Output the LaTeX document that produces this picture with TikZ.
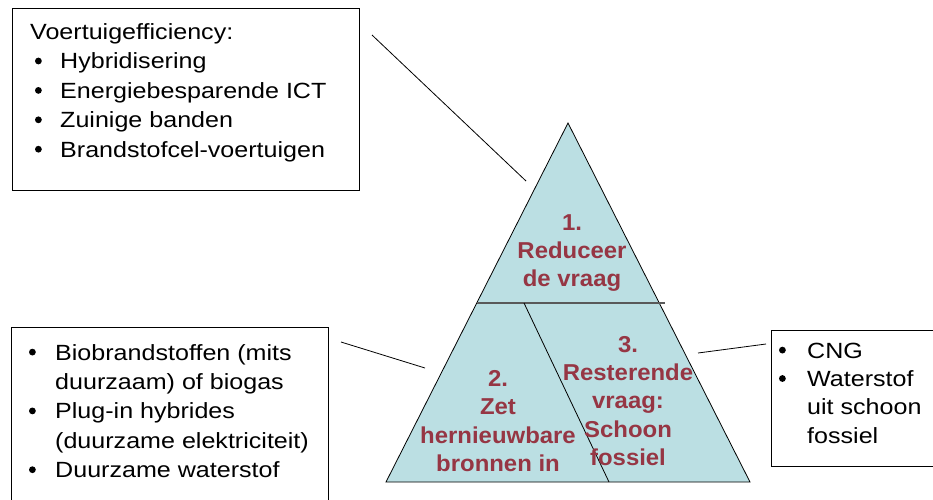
\documentclass[tikz,border=0pt]{standalone}
\usepackage{fontspec}
\setmainfont{Liberation Sans}[FakeStretch=1.14]
\newfontfamily\pyrfont{Liberation Sans}[FakeStretch=1.04]
\definecolor{pyrfill}{RGB}{187,223,227}
\definecolor{pyrred}{RGB}{150,54,68}
\tikzset{
  infobox/.style={draw, line width=1pt, inner sep=0pt, anchor=north west},
  listtext/.style={inner sep=0pt, anchor=base west, font=\fontsize{22}{29.4}\selectfont},
  pyrlabel/.style={inner sep=0pt, anchor=base, text=pyrred, font=\pyrfont\bfseries\fontsize{23}{28.4}\selectfont},
  leader/.style={line width=0.8pt},
}
\begin{document}
\begin{tikzpicture}[x=1pt,y=-1pt]
    \useasboundingbox (0,0) rectangle (933,499);
    % pyramid
    \coordinate (apex) at (568,123);
    \coordinate (baseL) at (386,482);
    \coordinate (baseR) at (750,482);
    \coordinate (divL) at (476.7,303);
    \coordinate (divR) at (665,303);
    \coordinate (cutTop) at (524,303);
    \coordinate (cutBot) at (609,482);
    \fill[pyrfill] (apex) -- (baseR) -- (baseL) -- cycle;
    \draw[line width=0.8pt] (apex) -- (baseR) -- (baseL) -- cycle;
    \draw[line width=2pt, black!65] (divL) -- (divR);
    \draw[line width=0.8pt] (cutTop) -- (cutBot);
    \node[pyrlabel] (reduce) at (572,230)
      {\begin{tabular}[t]{@{}c@{}}1.\\Reduceer\\de vraag\end{tabular}};
    \node[pyrlabel] (renew) at (498,386.5)
      {\begin{tabular}[t]{@{}c@{}}2.\\Zet\\hernieuwbare\\bronnen in\end{tabular}};
    \node[pyrlabel] (fossil) at (628,352)
      {\begin{tabular}[t]{@{}c@{}}3.\\Resterende\\vraag:\\Schoon\\fossiel\end{tabular}};
    % boxes
    \node[infobox, minimum width=347pt, minimum height=182pt] (effbox) at (12,8) {};
    \node[infobox, minimum width=317pt, minimum height=190pt] (renewbox) at (11,327) {};
    \node[infobox, minimum width=180pt, minimum height=136pt] (fossilbox) at (771,330) {};
    \node[listtext] (efflist) at (30,39.5)
      {\begin{tabular}[t]{@{}l@{\hspace{30pt}}l@{}}
        \multicolumn{2}{@{}l@{}}{Voertuigefficiency:}\\
        & Hybridisering\\
        & Energiebesparende ICT\\
        & Zuinige banden\\
        & Brandstofcel-voertuigen
      \end{tabular}};
    \node[listtext] (renewlist) at (55,360)
      {\begin{tabular}[t]{@{}l@{}}
        Biobrandstoffen (mits\\
        duurzaam) of biogas\\
        Plug-in hybrides\\
        (duurzame elektriciteit)\\
        Duurzame waterstof
      \end{tabular}};
    \node[listtext, font=\fontsize{22}{28.4}\selectfont] (fossillist) at (807,358)
      {\begin{tabular}[t]{@{}l@{}}
        CNG\\
        Waterstof\\
        uit schoon\\
        fossiel
      \end{tabular}};
    % bullets
    \foreach \y in {61,90.4,119.8,149.2}
      \fill (38.4,\y) circle (3.4pt);
    \foreach \y in {352.1,410.9,469.7}
      \fill (32.4,\y) circle (3.4pt);
    \foreach \y in {350.1,378.5}
      \fill (782.4,\y) circle (3.4pt);
    % leaders
    \coordinate (effTail) at (372,35);
    \coordinate (effHead) at (526,181);
    \coordinate (renewTail) at (341,342);
    \coordinate (renewHead) at (425,368);
    \coordinate (fossilTail) at (698,353);
    \coordinate (fossilHead) at (766,344);
    \draw[leader] (effTail) -- (effHead);
    \draw[leader] (renewTail) -- (renewHead);
    \draw[leader] (fossilTail) -- (fossilHead);
\end{tikzpicture}
\end{document}
